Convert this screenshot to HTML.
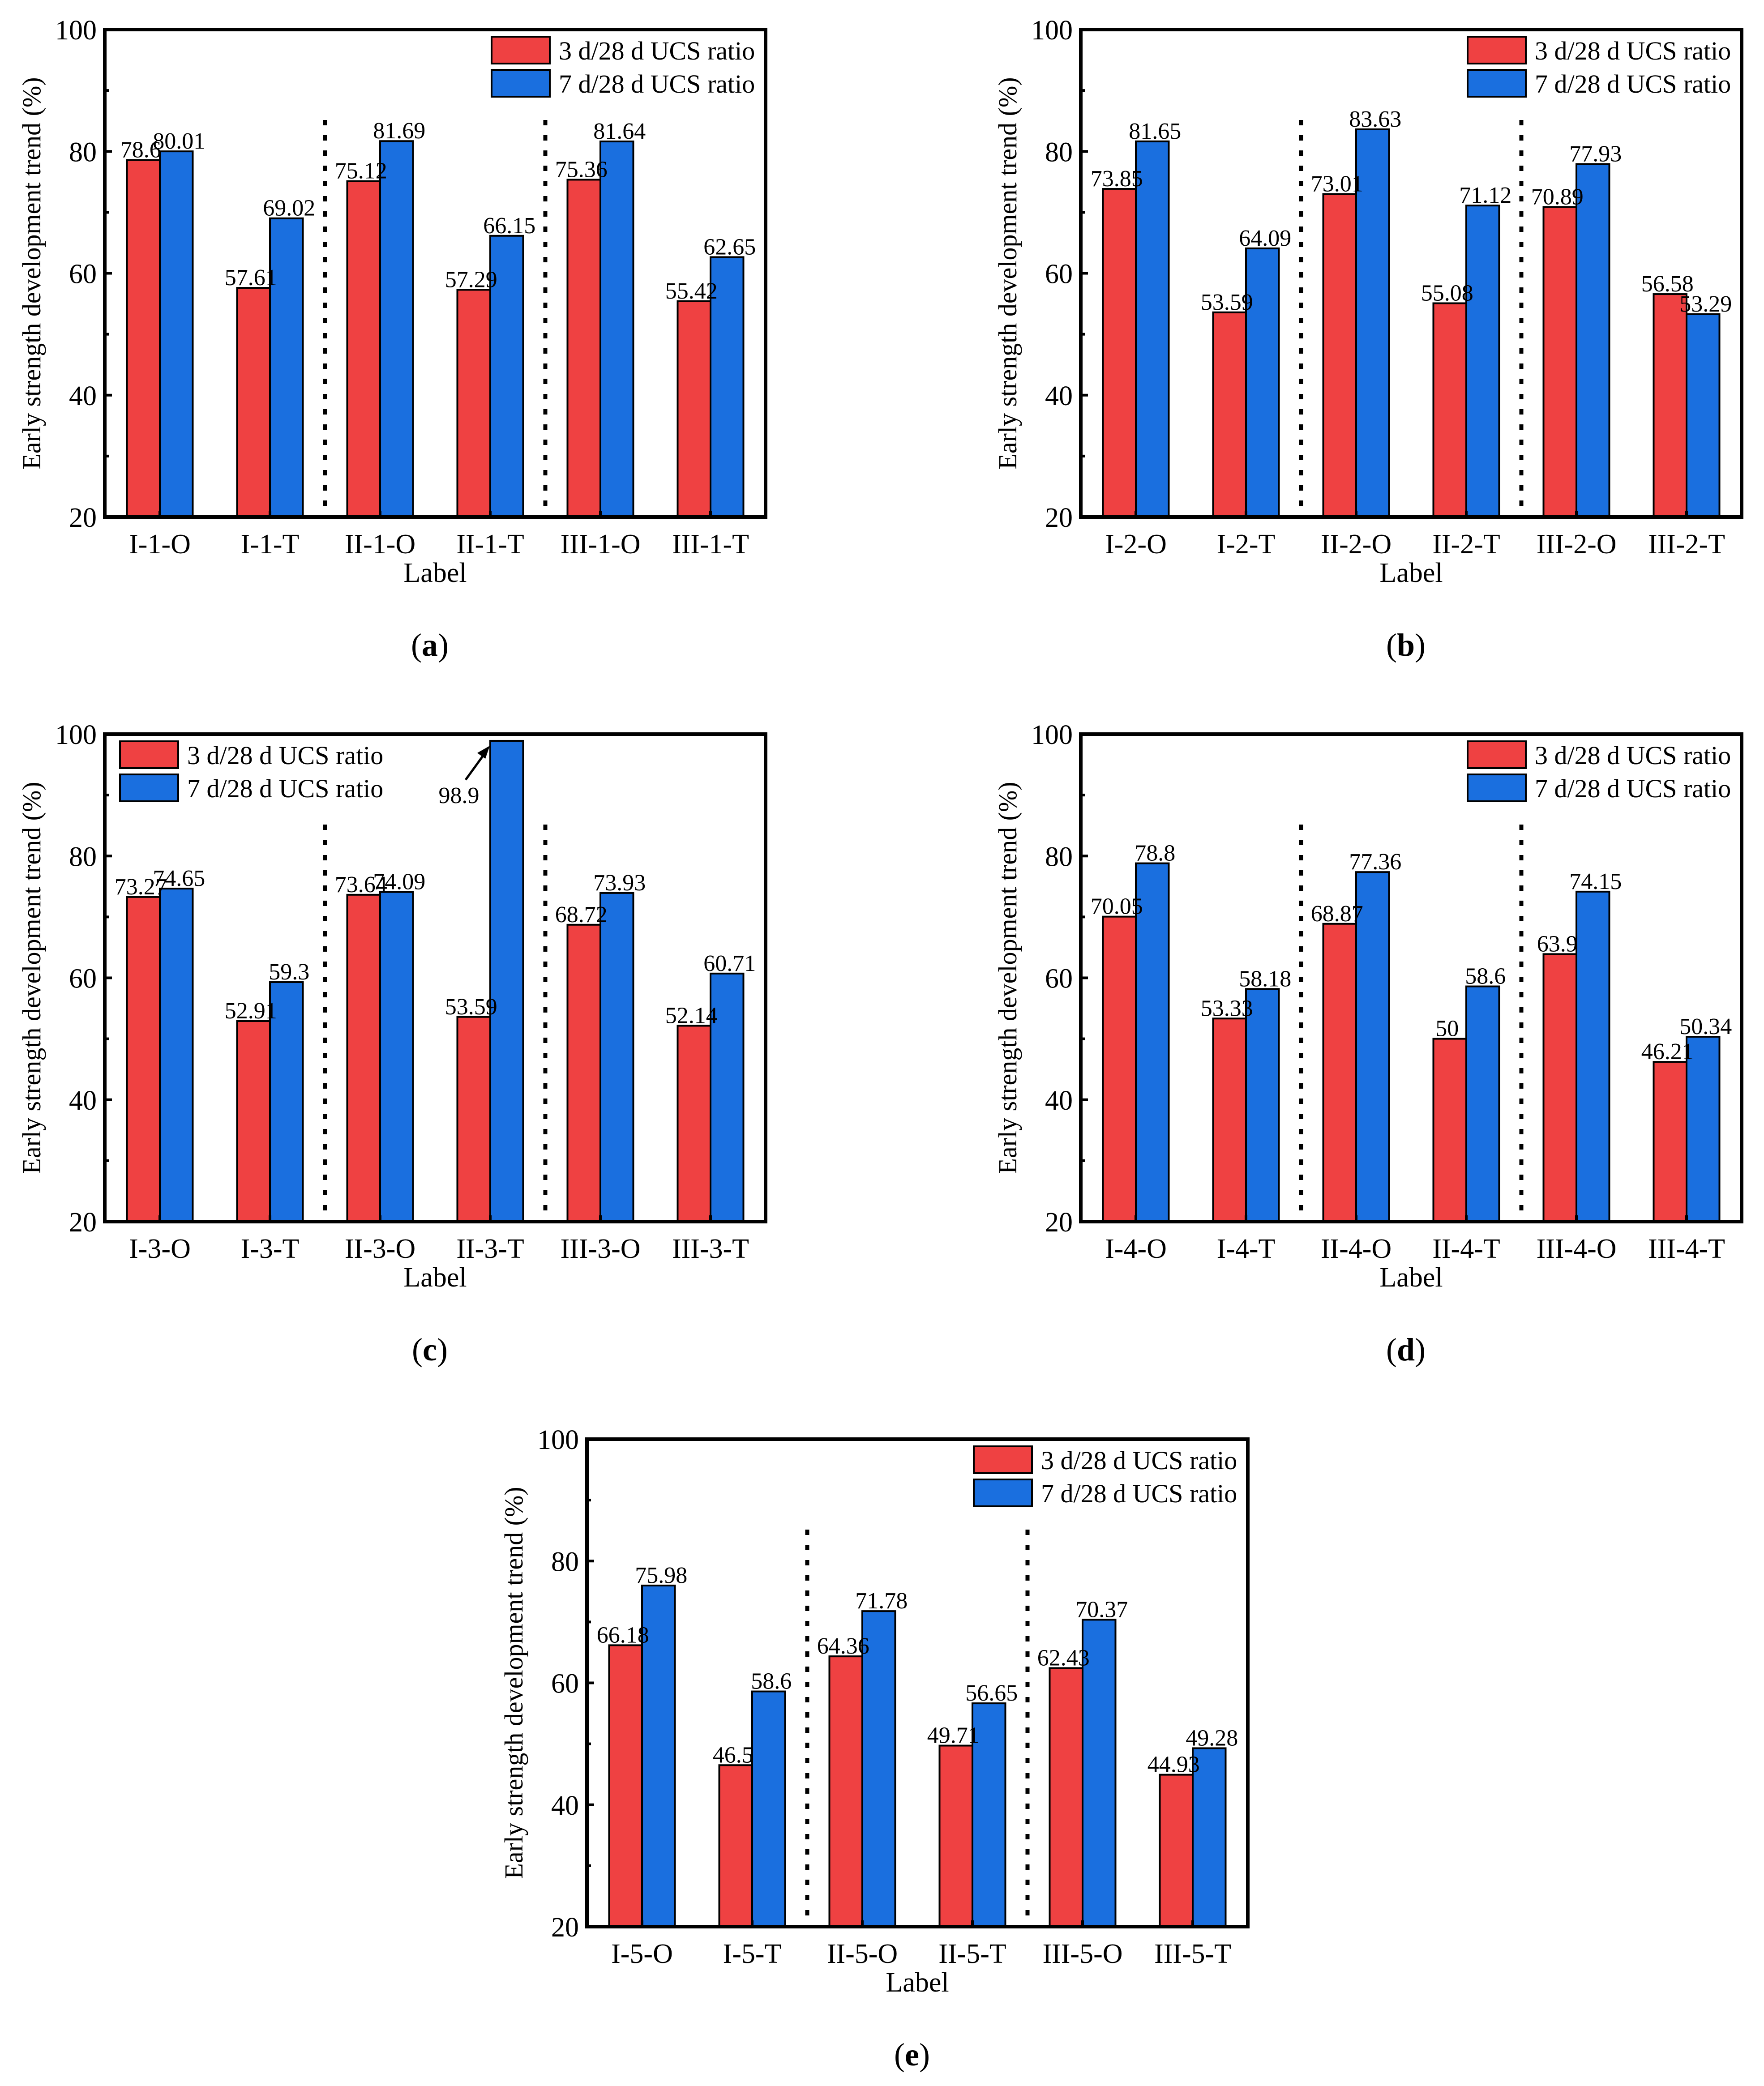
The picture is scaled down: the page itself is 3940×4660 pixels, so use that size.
<!DOCTYPE html>
<html><head><meta charset="utf-8"><style>
html,body{margin:0;padding:0;background:#fff;}
svg{display:block;font-family:"Liberation Serif",serif;}
</style></head><body>
<svg id="fig" width="3940" height="4660" viewBox="0 0 3940 4660" xmlns="http://www.w3.org/2000/svg"></svg>
<script>
const categoriesA = ["I-1-O","I-1-T","II-1-O","II-1-T","III-1-O","III-1-T"];
const redA = [78.6,57.61,75.12,57.29,75.36,55.42];
const blueA = [80.01,69.02,81.69,66.15,81.64,62.65];
const categoriesB = ["I-2-O","I-2-T","II-2-O","II-2-T","III-2-O","III-2-T"];
const redB = [73.85,53.59,73.01,55.08,70.89,56.58];
const blueB = [81.65,64.09,83.63,71.12,77.93,53.29];
const categoriesC = ["I-3-O","I-3-T","II-3-O","II-3-T","III-3-O","III-3-T"];
const redC = [73.27,52.91,73.64,53.59,68.72,52.14];
const blueC = [74.65,59.3,74.09,98.9,73.93,60.71];
const categoriesD = ["I-4-O","I-4-T","II-4-O","II-4-T","III-4-O","III-4-T"];
const redD = [70.05,53.33,68.87,50,63.9,46.21];
const blueD = [78.8,58.18,77.36,58.6,74.15,50.34];
const categoriesE = ["I-5-O","I-5-T","II-5-O","II-5-T","III-5-O","III-5-T"];
const redE = [66.18,46.5,64.36,49.71,62.43,44.93];
const blueE = [75.98,58.6,71.78,56.65,70.37,49.28];
const yTicks = [20,40,60,80,100];
const yMinor = [30,50,70,90];
const seriesNames = ["3 d/28 d UCS ratio","7 d/28 d UCS ratio"];

const NS="http://www.w3.org/2000/svg";
const svg=document.getElementById('fig');
function mk(tag,attrs,parent,text){const e=document.createElementNS(NS,tag);for(const k in attrs)e.setAttribute(k,attrs[k]);if(text!==undefined)e.textContent=text;parent.appendChild(e);return e;}

function panel(ox,oy,cats,red,blue,letter,legendLeft,special){
  const g=mk('g',{transform:`translate(${ox},${oy})`},svg);
  
  
  const L=234,R=1710,T=66,B=1155;
  const y=v=>B-(v-20)/80*(B-T);
  const step=(R-L)/cats.length;
  const cx=i=>L+step/2+step*i;
  const bw=73.5;
  cats.forEach((c,i)=>{
    const r=mk('rect',{x:cx(i)-bw,y:y(red[i]),width:bw,height:B-y(red[i]),fill:'#EF4142',stroke:'#000','stroke-width':4},g);
    
    
    const b=mk('rect',{x:cx(i),y:y(blue[i]),width:bw,height:B-y(blue[i]),fill:'#1A6FDF',stroke:'#000','stroke-width':4},g);
    
    
    const t1=mk('text',{x:cx(i)-bw/2-6,y:y(red[i])-6,'font-size':52,'text-anchor':'middle'},g,String(red[i]));
    
    
    if(!(special&&i===3)){
      const t2=mk('text',{x:cx(i)+bw/2+6,y:y(blue[i])-6,'font-size':52,'text-anchor':'middle'},g,String(blue[i]));
      
      
    }
    const xl=mk('text',{x:cx(i),y:1236,'font-size':62,'text-anchor':'middle'},g,c);
    
    
    mk('line',{x1:cx(i),x2:cx(i),y1:B,y2:B-14,stroke:'#000','stroke-width':6},g);
  });
  if(special){
    const t=mk('text',{x:1025,y:220,'font-size':52,'text-anchor':'middle'},g,String(blue[3]));
    
    
    const a=mk('line',{x1:1040,y1:168,x2:1082,y2:110,stroke:'#000','stroke-width':5},g);
    
    
    mk('polygon',{points:'1094,92 1066,108 1084,121',fill:'#000'},g);
  }
  [2,4].forEach(k=>{
    const s=mk('line',{x1:L+step*k,x2:L+step*k,y1:268,y2:B,stroke:'#000','stroke-width':9,'stroke-dasharray':'12 22'},g);
    
    
  });
  yTicks.forEach(v=>{
    mk('line',{x1:L,x2:L+16,y1:y(v),y2:y(v),stroke:'#000','stroke-width':6},g);
    const t=mk('text',{x:216,y:y(v)+22,'font-size':62,'text-anchor':'end'},g,String(v));
    
    
  });
  yMinor.forEach(v=>mk('line',{x1:L,x2:L+9,y1:y(v),y2:y(v),stroke:'#000','stroke-width':6},g));
  const box=mk('rect',{x:L,y:T,width:R-L,height:B-T,fill:'none',stroke:'#000','stroke-width':8},g);
  
  
  const yt=mk('text',{x:0,y:0,'font-size':58,'text-anchor':'middle',transform:`translate(90,${(T+B)/2}) rotate(-90)`},g,'Early strength development trend (%)');
  
  
  const xt=mk('text',{x:(L+R)/2,y:1300,'font-size':62,'text-anchor':'middle'},g,'Label');
  
  
  const cap=mk('text',{x:(L+R)/2-12,y:1465,'font-size':72,'text-anchor':'middle'},g);
  
  
  mk('tspan',{},cap,'(');mk('tspan',{'font-weight':'bold'},cap,letter);mk('tspan',{},cap,')');
  const lx=legendLeft?268:1098;
  const cols=['#EF4142','#1A6FDF'];
  seriesNames.forEach((n,k)=>{
    const sw=mk('rect',{x:lx,y:82+k*74,width:130,height:60,fill:cols[k],stroke:'#000','stroke-width':4},g);
    
    
    const lt=mk('text',{x:lx+150,y:133+k*74,'font-size':58},g,n);
    
    
  });
}
panel(0,0,categoriesA,redA,blueA,'a',false,false);
panel(2180,0,categoriesB,redB,blueB,'b',false,false);
panel(0,1574,categoriesC,redC,blueC,'c',true,true);
panel(2180,1574,categoriesD,redD,blueD,'d',false,false);
panel(1077,3149,categoriesE,redE,blueE,'e',false,false);
</script>
</body></html>
